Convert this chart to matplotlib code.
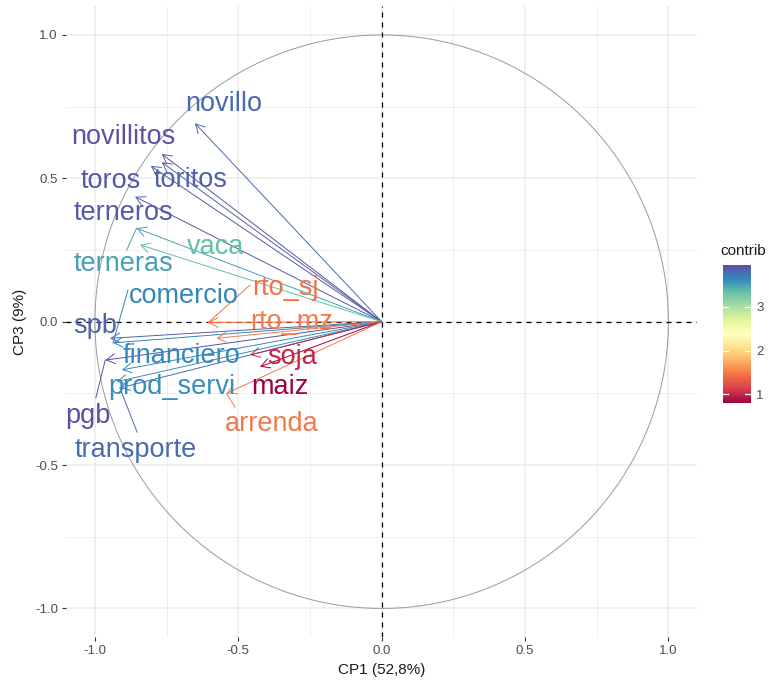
import matplotlib
matplotlib.use("Agg")
import matplotlib.pyplot as plt
from matplotlib import cm, colors
import numpy as np

plt.rcParams['font.family'] = ['Liberation Sans', 'DejaVu Sans']

# variable coordinates on CP1 / CP3 and their contribution
variables = ["novillo", "novillitos", "toritos", "toros", "terneros", "terneras",
             "vaca", "spb", "comercio", "pgb", "financiero", "prod_servi",
             "transporte", "rto_sj", "rto_mz", "soja", "maiz", "arrenda"]
cp1 = [-0.651, -0.767, -0.767, -0.805, -0.860, -0.855,
       -0.843, -0.947, -0.937, -0.964, -0.906, -0.923,
       -0.913, -0.605, -0.576, -0.459, -0.424, -0.541]
cp3 = [0.692, 0.585, 0.556, 0.543, 0.436, 0.326,
       0.268, -0.058, -0.074, -0.134, -0.168, -0.209,
       -0.231, -0.003, -0.058, -0.116, -0.157, -0.250]
contrib = [3.80, 3.92, 3.85, 3.90, 3.88, 3.50,
           3.33, 3.85, 3.65, 3.95, 3.62, 3.60,
           3.78, 1.45, 1.50, 1.00, 0.80, 1.48]

# where the repelled labels ended up, and leader lines for the far ones
label_pos = {
    "novillo": (-0.550, 0.759), "novillitos": (-0.902, 0.644),
    "toritos": (-0.665, 0.494), "toros": (-0.944, 0.491),
    "terneros": (-0.902, 0.379), "terneras": (-0.902, 0.201),
    "vaca": (-0.578, 0.261), "spb": (-1.000, -0.015),
    "comercio": (-0.689, 0.089), "pgb": (-1.024, -0.329),
    "financiero": (-0.697, -0.120), "prod_servi": (-0.731, -0.228),
    "transporte": (-0.857, -0.448), "rto_sj": (-0.337, 0.117),
    "rto_mz": (-0.313, 0.000), "soja": (-0.313, -0.123),
    "maiz": (-0.355, -0.228), "arrenda": (-0.385, -0.357),
}
leader_start = {
    "terneras": (-0.889, 0.250), "comercio": (-0.885, 0.110),
    "rto_sj": (-0.459, 0.128), "pgb": (-0.997, -0.266),
    "transporte": (-0.853, -0.385), "arrenda": (-0.511, -0.298),
}

fig = plt.figure(figsize=(7.75, 6.82), dpi=100)
ax = fig.add_axes([0.0855, 0.0658, 0.814, 0.925])

cmap = matplotlib.colormaps["Spectral"]
norm = colors.Normalize(vmin=min(contrib), vmax=max(contrib))

# grid like theme_minimal
for v in np.arange(-1.0, 1.01, 0.5):
    ax.axvline(v, color="#EBEBEB", lw=1.1, zorder=0)
    ax.axhline(v, color="#EBEBEB", lw=1.1, zorder=0)
for v in [-0.75, -0.25, 0.25, 0.75]:
    ax.axvline(v, color="#EBEBEB", lw=0.55, zorder=0)
    ax.axhline(v, color="#EBEBEB", lw=0.55, zorder=0)

# correlation circle
t = np.linspace(0, 2 * np.pi, 400)
ax.plot(np.cos(t), np.sin(t), color="#9a9a9a", lw=0.7, zorder=1)

ax.axhline(0, color="black", lw=0.9, ls=(0, (4, 4)), zorder=2)
ax.axvline(0, color="black", lw=0.9, ls=(0, (4, 4)), zorder=2)

for name, x, y, c in zip(variables, cp1, cp3, contrib):
    col = cmap(norm(c))
    ax.annotate("", xy=(x, y), xytext=(0, 0),
                arrowprops=dict(arrowstyle="->,head_length=0.45,head_width=0.25",
                                color=col, lw=0.7, shrinkA=0, shrinkB=0,
                                mutation_scale=14),
                zorder=3)
    if name in leader_start:
        sx, sy = leader_start[name]
        ax.plot([sx, x], [sy, y], color=col, lw=0.7, zorder=3)
    lx, ly = label_pos[name]
    ax.text(lx, ly, name, color=col, fontsize=19.5, ha="center", va="center",
            zorder=4)

ax.set_xlim(-1.1, 1.1)
ax.set_ylim(-1.1, 1.1)
ax.set_xticks([-1.0, -0.5, 0.0, 0.5, 1.0])
ax.set_yticks([-1.0, -0.5, 0.0, 0.5, 1.0])
ax.set_xticklabels(["-1.0", "-0.5", "0.0", "0.5", "1.0"])
ax.set_yticklabels(["-1.0", "-0.5", "0.0", "0.5", "1.0"])
ax.tick_params(length=3, width=0.8, color="#333333", labelcolor="#4D4D4D",
               labelsize=9.5, pad=3)
for s in ax.spines.values():
    s.set_visible(False)
ax.set_xlabel("CP1 (52,8%)", fontsize=11, color="#1a1a1a", labelpad=4)
ax.set_ylabel("CP3 (9%)", fontsize=11, color="#1a1a1a", labelpad=6)

# colour bar for contrib
cax = fig.add_axes([0.9325, 0.4087, 0.0361, 0.2028])
cb = fig.colorbar(cm.ScalarMappable(norm=norm, cmap=cmap), cax=cax,
                  ticks=[1, 2, 3])
cb.outline.set_visible(False)
cax.tick_params(length=0, labelsize=9.5, labelcolor="#4D4D4D", pad=4)
for v in [1, 2, 3]:
    cax.plot([0, 0.2], [v, v], color="white", lw=0.9, transform=cax.get_yaxis_transform())
    cax.plot([0.8, 1.0], [v, v], color="white", lw=0.9, transform=cax.get_yaxis_transform())
cax.set_title("contrib", fontsize=11, color="#1a1a1a", loc="left", pad=7, x=-0.1)

fig.savefig("out.png", dpi=100)
